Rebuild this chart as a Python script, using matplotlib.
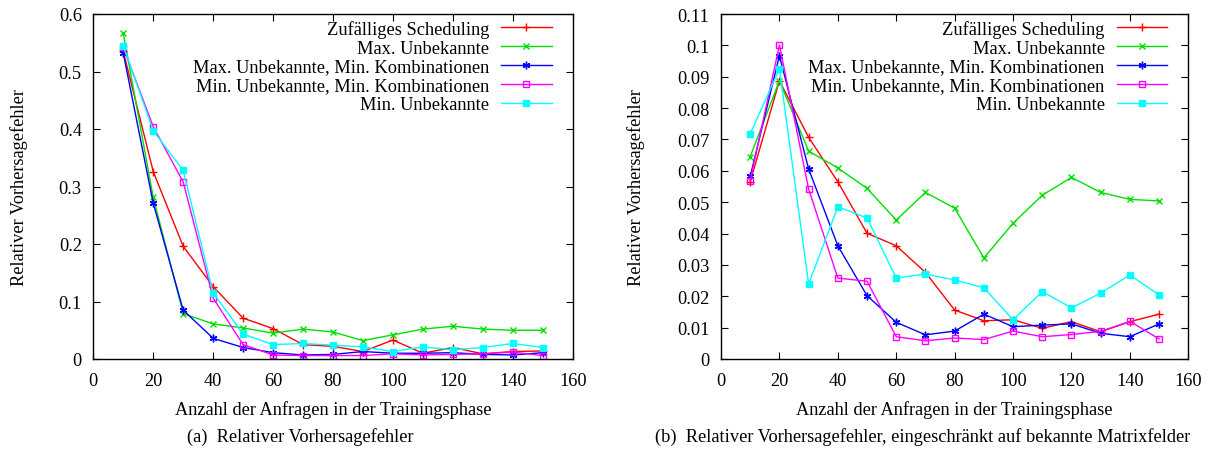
import matplotlib
matplotlib.use("Agg")
import matplotlib.pyplot as plt
from matplotlib.ticker import FuncFormatter, MultipleLocator

plt.rcParams['font.family'] = ['Liberation Serif', 'DejaVu Serif']

x = [10, 20, 30, 40, 50, 60, 70, 80, 90, 100, 110, 120, 130, 140, 150]

labels = ["Zufälliges Scheduling", "Max. Unbekannte",
          "Max. Unbekannte, Min. Kombinationen",
          "Min. Unbekannte, Min. Kombinationen", "Min. Unbekannte"]

# Panel (a): relative prediction error
a_random = [0.535, 0.326, 0.196, 0.126, 0.071, 0.053, 0.025, 0.022, 0.013, 0.033, 0.010, 0.020, 0.009, 0.013, 0.014]
a_maxunk = [0.567, 0.281, 0.079, 0.061, 0.054, 0.045, 0.052, 0.047, 0.032, 0.042, 0.052, 0.057, 0.052, 0.050, 0.050]
a_maxunk_mincomb = [0.532, 0.271, 0.085, 0.036, 0.020, 0.011, 0.007, 0.008, 0.013, 0.010, 0.010, 0.011, 0.008, 0.007, 0.011]
a_minunk_mincomb = [0.542, 0.404, 0.308, 0.106, 0.025, 0.007, 0.006, 0.006, 0.006, 0.009, 0.007, 0.008, 0.009, 0.012, 0.006]
a_minunk = [0.545, 0.397, 0.328, 0.115, 0.0435, 0.025, 0.027, 0.024, 0.021, 0.013, 0.021, 0.016, 0.020, 0.027, 0.020]

# Panel (b): relative prediction error, restricted to known matrix fields
b_random = [0.0565, 0.0887, 0.0707, 0.0565, 0.0401, 0.0361, 0.0276, 0.0156, 0.0122, 0.0125, 0.0098, 0.0119, 0.0087, 0.0119, 0.0143]
b_maxunk = [0.0645, 0.0887, 0.0663, 0.0609, 0.0544, 0.0443, 0.0531, 0.0481, 0.0322, 0.0433, 0.0522, 0.0579, 0.0531, 0.0509, 0.0504]
b_maxunk_mincomb = [0.0582, 0.0967, 0.0606, 0.0361, 0.0202, 0.0117, 0.0077, 0.0089, 0.0143, 0.0103, 0.0108, 0.0112, 0.0082, 0.0071, 0.0112]
b_minunk_mincomb = [0.0569, 0.1001, 0.0542, 0.0258, 0.0248, 0.0071, 0.0058, 0.0067, 0.0062, 0.0089, 0.0071, 0.0078, 0.0088, 0.0120, 0.0064]
b_minunk = [0.0718, 0.0925, 0.0239, 0.0485, 0.0450, 0.0258, 0.0271, 0.0252, 0.0227, 0.0125, 0.0215, 0.0163, 0.0210, 0.0268, 0.0204]

xlabel = "Anzahl der Anfragen in der Trainingsphase"
ylabel = "Relativer Vorhersagefehler"
caption_a = "(a)  Relativer Vorhersagefehler"
caption_b = "(b)  Relativer Vorhersagefehler, eingeschränkt auf bekannte Matrixfelder"

styles = [
    dict(color='#ff0000', marker='+', ms=5.5, mew=1.0),
    dict(color='#00e000', marker='x', ms=4.5, mew=1.0),
    dict(color='#0000ff', marker=(6, 2, 0), ms=5.5, mew=1.0),
    dict(color='#ff00ff', marker='s', ms=4.2, mew=1.0, mfc='none'),
    dict(color='#00ffff', marker='s', ms=4.5, mew=1.0),
]

FS = 13.25
W, H = 1212, 452
fig = plt.figure(figsize=(W / 100, H / 100), dpi=100)

def px_axes(l, r, t, b):
    return fig.add_axes([l / W, 1 - b / H, (r - l) / W, (b - t) / H])

A_L, A_R, B_L, B_R, TOP, BOT = 93.3, 572.7, 721, 1188.3, 15, 360
ax_a = px_axes(A_L, A_R, TOP, BOT)
ax_b = px_axes(B_L, B_R, TOP, BOT)

def fmt(v, pos):
    return "%g" % round(v, 6)

for ax, series, ymax, ystep, w in [
        (ax_a, [a_random, a_maxunk, a_maxunk_mincomb, a_minunk_mincomb, a_minunk], 0.6, 0.1, A_R - A_L),
        (ax_b, [b_random, b_maxunk, b_maxunk_mincomb, b_minunk_mincomb, b_minunk], 0.11, 0.01, B_R - B_L)]:
    for ys, lab, st in zip(series, labels, styles):
        ax.plot(x, ys, lw=1.0, label=lab, **st)
    ax.set_xlim(0, 160)
    ax.set_ylim(0, ymax)
    ax.xaxis.set_major_locator(MultipleLocator(20))
    ax.yaxis.set_major_locator(MultipleLocator(ystep))
    ax.yaxis.set_major_formatter(FuncFormatter(fmt))
    ax.tick_params(direction='in', top=True, right=True, length=5, width=0.8,
                   labelsize=FS, colors='black')
    ax.tick_params(axis='x', pad=9.5)
    ax.tick_params(axis='y', pad=8.3)
    for sp in ax.spines.values():
        sp.set_linewidth(1.0)
    ax.set_xlabel(xlabel, fontsize=FS, labelpad=8)
    ax.legend(loc='upper right', frameon=False, markerfirst=False,
              fontsize=FS, handlelength=2.75, handletextpad=0.65,
              labelspacing=0.1, borderaxespad=0, borderpad=0,
              bbox_to_anchor=(1 - 21 / w, 1 - 6 / (BOT - TOP)))

ax_a.yaxis.set_label_coords((28 - A_L) / (A_R - A_L), 0.5)
ax_a.set_ylabel(ylabel, fontsize=FS)
ax_b.set_ylabel(ylabel, fontsize=FS)
ax_b.yaxis.set_label_coords((645 - B_L) / (B_R - B_L), 0.5)

fig.text(300 / W, 1 - 437 / H, caption_a, fontsize=FS, ha='center', va='center')
fig.text(923 / W, 1 - 437 / H, caption_b, fontsize=FS, ha='center', va='center')

fig.savefig("out.png", dpi=100)
